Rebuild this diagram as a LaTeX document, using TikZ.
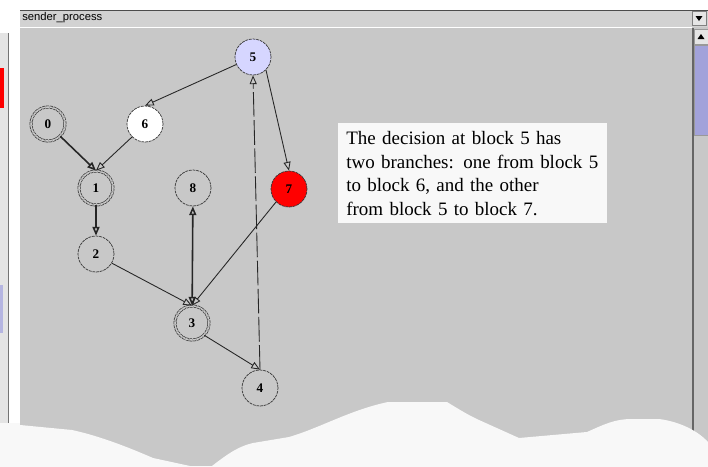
\documentclass[tikz,border=0pt]{standalone}
\usepackage{fontspec}
\setmainfont{Liberation Serif}
\newfontfamily\guifont{Liberation Sans}
\usetikzlibrary{arrows.meta}

\definecolor{canvas}{HTML}{C8C8C8}
\definecolor{barbg}{HTML}{D2D2D2}
\definecolor{paper}{HTML}{F8F8F8}
\definecolor{entry}{HTML}{D6D6FF}
\definecolor{thumb}{HTML}{A2A2DA}
\definecolor{panel}{HTML}{E4E4E4}

\begin{document}
\begin{tikzpicture}[x=0.02cm, y=-0.02cm,
  every node/.style={font=\bfseries\fontsize{7.5}{8}\selectfont},
  block/.style={circle, draw=black!80, dash pattern=on 1.6pt off 0.5pt, fill=canvas, minimum size=0.72cm, inner sep=0pt},
  exitblock/.style={block, double=canvas, double distance=0.9pt, minimum size=0.68cm},
  flow/.style={-{Triangle[open, length=5pt, width=4pt]}, black!85, line width=0.5pt},
  strong/.style={flow, line width=0.9pt}]
\useasboundingbox (0,0) rectangle (708,467);

% window frame, title bar and scroll bar
\fill[white] (0,0) rectangle (708,467);
\fill[panel] (0,33) rectangle (8,423);
\fill[red] (0,68) rectangle (4,108);
\fill[thumb!80] (0,285) rectangle (3,333);
\draw[black!55] (8,33) -- (8,423);
\fill[canvas] (20,27) rectangle (708,467);
\fill[barbg] (20,10) rectangle (708,27);
\draw[black!70] (20,10) -- (708,10);
\draw[white, line width=0.8pt] (20,27.5) -- (692,27.5);
\node[font=\guifont\fontsize{6.4}{7}\selectfont, anchor=west, inner sep=0pt] (title) at (22,18) {sender\_process};
\filldraw[fill=black!10, draw=black!50] (692,11) rectangle (706,25);
\fill[black] (695.5,16) -- (702.5,16) -- (699,21) -- cycle;
\draw[black!60, line width=0.8pt] (693,28) -- (693,445);
\filldraw[fill=black!10, draw=black!40] (694,29) rectangle (708,44);
\fill[black] (697.5,39) -- (704.5,39) -- (701,34) -- cycle;
\filldraw[fill=thumb, draw=black!40] (694,45) rectangle (708,135);

% torn paper edge along the bottom
\fill[paper] (20,425) -- (72,430) .. controls (100,436) and (130,448) .. (153,458)
  -- (190,466) -- (212,466) .. controls (230,452) and (240,446) .. (253,443)
  -- (289,437) .. controls (320,428) and (350,410) .. (388,402) -- (447,402)
  .. controls (460,410) and (470,416) .. (479,420) -- (519,438) -- (587,432)
  .. controls (605,424) and (615,419) .. (632,419) -- (659,419)
  .. controls (675,421) and (695,428) .. (708,442) -- (708,467) -- (20,467) -- cycle;
\fill[paper] (0,423) rectangle (20,467);

% blocks of the process
\node[block, fill=entry] (n5) at (253,57) {5};
\node[block, fill=white] (n6) at (145,124) {6};
\node[exitblock] (n0) at (48,124) {0};
\node[exitblock] (n1) at (96,188) {1};
\node[block] (n8) at (193,188) {8};
\node[block, fill=red] (n7) at (289,189) {7};
\node[block] (n2) at (96,254) {2};
\node[exitblock] (n3) at (192,323) {3};
\node[block] (n4) at (260,388) {4};

% branches out of block 5
\draw[flow] (n5) -- (n6.north);
\draw[flow] (n5.south east) -- (n7.north);

% remaining control flow
\draw[strong] (n0.south east) -- (n1.north);
\draw[flow] (n6.south west) -- (n1.north);
\draw[strong] (n1) -- (n2);
\draw[strong, {Triangle[open, length=5pt, width=4pt]}-{Triangle[open, length=5pt, width=4pt]}] (n8) -- (n3);
\draw[flow] (n7.south west) -- (n3.north);
\draw[flow] (n2.-30) -- (n3.north);
\draw[flow] (n3.south east) -- (n4.north);
\draw[flow, dash pattern=on 14pt off 2pt] (n4.north) -- (n5.south);

% explanation box
\node[anchor=north west, fill=paper, minimum width=5.3cm, minimum height=2cm,
  text width=5.05cm, inner xsep=0.16cm, align=left,
  font=\fontsize{10.8}{13.4}\selectfont] (note) at (338,123)
  {The decision at block 5 has\\two branches: one from block 5\\to block 6, and the other\\from block 5 to block 7.};
\end{tikzpicture}
\end{document}
